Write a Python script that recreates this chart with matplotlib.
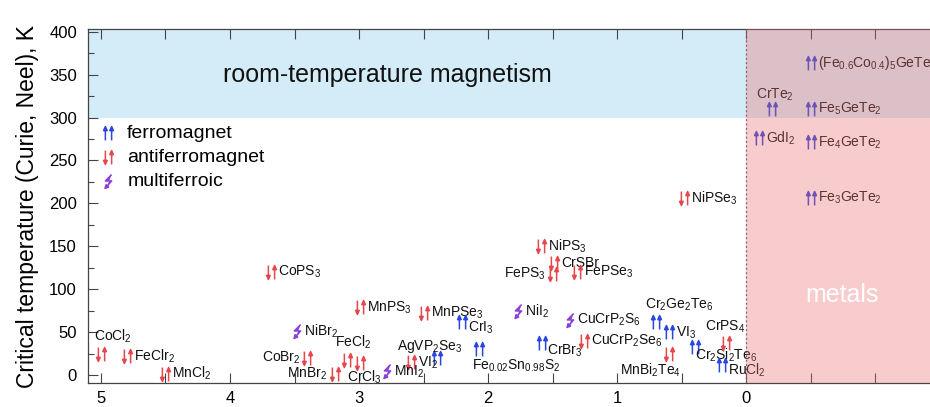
#!/usr/bin/env python3

import re
import matplotlib
matplotlib.use('Agg')
import matplotlib.pyplot as plt
import numpy as np
from matplotlib.path import Path

plt.rcParams['font.family'] = ['Liberation Sans', 'DejaVu Sans']
plt.rcParams['mathtext.fontset'] = 'custom'
plt.rcParams['mathtext.rm'] = 'Liberation Sans'
plt.rcParams['mathtext.it'] = 'Liberation Sans:italic'
plt.rcParams['mathtext.bf'] = 'Liberation Sans:bold'

# materials: x position (descriptor), critical temperature (K), kind of order
names = ['CoCl2', 'FeClr2', 'MnCl2', 'CoPS3', 'NiBr2', 'CoBr2', 'MnBr2',
         'FeCl2', 'CrCl3', 'MnPS3', 'MnPSe3', 'CrI3', 'AgVP2Se3', 'VI2',
         'MnI2', 'Fe0.02Sn0.98S2', 'NiI2', 'CrBr3', 'NiPS3', 'CrSBr',
         'FePS3', 'FePSe3', 'CuCrP2S6', 'CuCrP2Se6', 'Cr2Ge2Te6', 'VI3',
         'MnBi2Te4', 'Cr2Si2Te6', 'CrPS4', 'RuCl2', 'NiPSe3',
         '(Fe0.6Co0.4)5GeTe2', 'CrTe2', 'Fe5GeTe2', 'GdI2', 'Fe4GeTe2',
         'Fe3GeTe2']
xvals = [5.0, 4.8, 4.5, 3.68, 3.48, 3.4, 3.19,
         3.09, 2.99, 2.99, 2.5, 2.2, 2.4, 2.6,
         2.78, 2.07, 1.77, 1.58, 1.59, 1.49,
         1.5, 1.31, 1.37, 1.26, 0.7, 0.6,
         0.6, 0.4, 0.155, 0.19, 0.48,
         -0.5, -0.2, -0.5, -0.1, -0.5,
         -0.5]
tc = [25, 22, 2, 120, 51, 20, 2,
      18, 14, 79, 73, 62, 20, 15,
      4.5, 31, 75, 37, 150, 131,
      118, 120, 64, 40, 62, 50,
      25, 33, 38, 12, 206,
      364, 310, 310, 276, 271,
      206]
kinds = ['afm', 'afm', 'afm', 'afm', 'mf', 'afm', 'afm',
         'afm', 'afm', 'afm', 'afm', 'fm', 'fm', 'afm',
         'mf', 'fm', 'mf', 'fm', 'afm', 'afm',
         'afm', 'afm', 'mf', 'afm', 'fm', 'fm',
         'afm', 'fm', 'afm', 'fm', 'afm',
         'fm', 'fm', 'fm', 'fm', 'fm',
         'fm']

# label placement relative to the symbol (pixels, horizontal alignment)
label_offsets = {
    'CoCl2': (-7, 17, 'left'),
    'CoBr2': (-7, 0, 'right'),
    'MnBr2': (-7, 0, 'right'),
    'FeCl2': (-12, 18, 'left'),
    'CrCl3': (-13, -14, 'left'),
    'CrI3': (6, -6, 'left'),
    'AgVP2Se3': (-7, 12, 'center'),
    'Fe0.02Sn0.98S2': (-7, -17, 'left'),
    'CrBr3': (5, -7, 'left'),
    'FePS3': (-7, 0, 'right'),
    'Cr2Ge2Te6': (-11, 17, 'left'),
    'MnBi2Te4': (-18, -17, 'center'),
    'Cr2Si2Te6': (0, -8, 'left'),
    'CrPS4': (-1, 16, 'center'),
    'RuCl2': (6, -5, 'left'),
    'CrTe2': (3, 14, 'center'),
}


def arrow(xc, up):
    s = 1 if up else -1
    verts = [(xc, -s * 1.0), (xc, s * 0.45),
             (xc - 0.26, s * 0.42), (xc + 0.26, s * 0.42), (xc, s * 1.0),
             (xc, s * 1.0)]
    codes = [Path.MOVETO, Path.LINETO,
             Path.MOVETO, Path.LINETO, Path.LINETO, Path.CLOSEPOLY]
    return verts, codes


def pair(left_up):
    v1, c1 = arrow(-0.45, left_up)
    v2, c2 = arrow(0.45, True)
    return Path(v1 + v2, c1 + c2)


def bolt():
    verts = [(0.45, 1.0), (-0.45, 0.08), (0.45, 0.08), (-0.17, -0.63),
             (0.02, -0.80), (-0.5, -1.0), (-0.35, -0.46), (0.02, -0.80)]
    codes = [Path.MOVETO, Path.LINETO, Path.LINETO, Path.LINETO,
             Path.MOVETO, Path.LINETO, Path.LINETO, Path.CLOSEPOLY]
    return Path(verts, codes)


markers = {'fm': pair(True), 'afm': pair(False), 'mf': bolt()}
colors = {'fm': '#2a45e0', 'afm': '#e4484c', 'mf': '#8a3fd8'}
legend_names = {'fm': 'ferromagnet', 'afm': 'antiferromagnet',
                'mf': 'multiferroic'}


def chem(name):
    return re.sub(r'(\d+(?:\.\d+)?)', r'$_{\1}$', name)


fig = plt.figure(figsize=(9.3, 4.07), dpi=100)
ax = fig.add_axes([88 / 930, 24 / 407, 852 / 930, 354 / 407])

ax.set_xlim(5.1, -1.5)
ax.set_ylim(-9, 403)

# room temperature band and metals region
ax.axhspan(300, 403, color='#d3ecf8', zorder=0, lw=0)
ax.axvline(0, color='#555555', ls=(0, (1.5, 2)), lw=0.9, zorder=1)

for name, x, t, k in zip(names, xvals, tc, kinds):
    ax.plot(x, t, ls='none', marker=markers[k], ms=10, color=colors[k],
            mfc=colors[k], mec=colors[k], mew=1.1, zorder=3)
    dx, dy, ha = label_offsets.get(name, (7, 0, 'left'))
    ax.annotate(chem(name), (x, t), xytext=(dx, dy),
                textcoords='offset pixels', ha=ha, va='center',
                fontsize=10, color='#111111', zorder=3)

ax.axvspan(0, -1.5, color='#eb6e6e', alpha=0.35, zorder=5, lw=0)

ax.text(2.78, 349, 'room-temperature magnetism', fontsize=18,
        ha='center', va='center', color='#111111', zorder=4)
ax.text(-0.74, 94, 'metals', fontsize=18, ha='center', va='center',
        color='white', zorder=6)

# legend
for i, k in enumerate(['fm', 'afm', 'mf']):
    y = 0.706 - i * 0.068
    ax.plot(0.0235, y, ls='none', marker=markers[k], ms=10,
            color=colors[k], mfc=colors[k], mec=colors[k], mew=1.1,
            transform=ax.transAxes, zorder=4)
    ax.text(0.046, y, legend_names[k], fontsize=14, ha='left',
            va='center', transform=ax.transAxes, zorder=4)

ax.set_xticks(np.arange(-1.5, 5.01, 0.5))
ax.set_xticklabels([str(int(v)) if v >= 0 and v == int(v) else ''
                    for v in np.arange(-1.5, 5.01, 0.5)])
ax.set_yticks(np.arange(0, 401, 50))
ax.set_yticks(np.arange(0, 401, 25), minor=True)
ax.tick_params(axis='x', direction='in', top=True, length=7, width=0.8,
               labelsize=12, pad=6, color='#444444')
ax.tick_params(axis='y', which='major', direction='in', length=7,
               width=0.8, labelsize=12, pad=8, color='#444444')
ax.tick_params(axis='y', which='minor', direction='in', length=4,
               width=0.8, color='#444444')
for s in ['left', 'bottom', 'top']:
    ax.spines[s].set_color('#444444')
    ax.spines[s].set_linewidth(0.9)
ax.spines['right'].set_visible(False)

ax.set_ylabel('Critical temperature (Curie, Neel), K', fontsize=16.5)
ax.yaxis.set_label_coords(-0.057, 0.5)

fig.savefig('out.png', dpi=100)
